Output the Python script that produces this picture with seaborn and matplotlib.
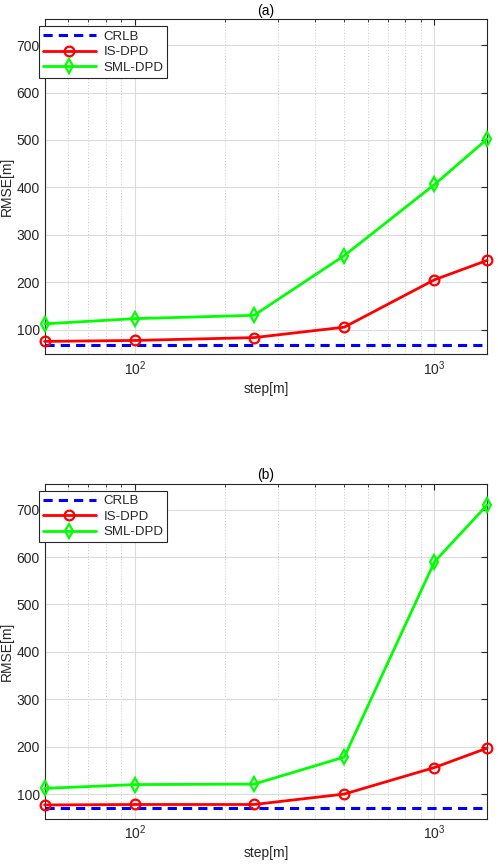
import numpy as np
import pandas as pd
import matplotlib
matplotlib.use("Agg")
import matplotlib.pyplot as plt
import seaborn as sns
from matplotlib.ticker import LogLocator, NullFormatter, MultipleLocator

steps = [50, 100, 250, 500, 1000, 1500]
series_names = ["CRLB", "IS-DPD", "SML-DPD"]

crlb_a = [68, 68, 68, 68, 68, 68]
is_a = [75, 77, 83, 105, 205, 246]
sml_a = [112, 123, 130, 256, 406, 502]

crlb_b = [70, 70, 70, 70, 70, 70]
is_b = [77, 78, 78, 100, 156, 197]
sml_b = [112, 120, 121, 178, 590, 710]

panel_titles = ["(a)", "(b)"]
xlabel = "step[m]"
ylabel = "RMSE[m]"

sns.set_style("white")
plt.rcParams["font.family"] = ["Liberation Sans", "DejaVu Sans"]

fig = plt.figure(figsize=(4.98, 8.66), dpi=100)
ax_a = fig.add_axes([0.0894, 0.591, 0.889, 0.387])
ax_b = fig.add_axes([0.0894, 0.0546, 0.889, 0.387])

colors = {"CRLB": "#0000ff", "IS-DPD": "#ff0000", "SML-DPD": "#00ff00"}
markers = {"CRLB": "", "IS-DPD": "o", "SML-DPD": "d"}

for ax, title, vals in [
    (ax_a, panel_titles[0], (crlb_a, is_a, sml_a)),
    (ax_b, panel_titles[1], (crlb_b, is_b, sml_b)),
]:
    df = pd.DataFrame({
        "step": steps * 3,
        "rmse": list(vals[0]) + list(vals[1]) + list(vals[2]),
        "series": sum([[n] * len(steps) for n in series_names], []),
    })
    for name in series_names:
        sub = df[df["series"] == name]
        if name == "CRLB":
            sns.lineplot(data=sub, x="step", y="rmse", ax=ax, color=colors[name],
                         lw=2.2, linestyle=(0, (3, 2)), label=name, clip_on=False,
                         zorder=3)
        else:
            sns.lineplot(data=sub, x="step", y="rmse", ax=ax, color=colors[name],
                         lw=2.0, marker=markers[name], markersize=7,
                         markerfacecolor="none", markeredgecolor=colors[name],
                         markeredgewidth=1.6, label=name, clip_on=False, zorder=4)
    ax.set_xscale("log")
    ax.set_xlim(50, 1500)
    ax.set_ylim(48, 755)
    ax.yaxis.set_major_locator(MultipleLocator(100))
    ax.xaxis.set_major_locator(LogLocator(base=10))
    ax.xaxis.set_minor_locator(LogLocator(base=10, subs=np.arange(2, 10)))
    ax.xaxis.set_minor_formatter(NullFormatter())
    ax.grid(True, which="major", color="#dcdcdc", lw=0.8, ls="-")
    ax.grid(True, which="minor", axis="x", color="#c8c8c8", lw=0.7, ls=(0, (1, 2)))
    ax.set_axisbelow(True)
    for s in ax.spines.values():
        s.set_color("#262626")
        s.set_linewidth(0.8)
    ax.tick_params(axis="both", which="both", direction="in", top=True, right=True,
                   labelsize=10, colors="#262626", labelcolor="#262626")
    ax.tick_params(which="major", length=4)
    ax.tick_params(which="minor", length=2.5)
    ax.set_xlabel(xlabel, fontsize=10, color="#262626", labelpad=3)
    ax.set_ylabel(ylabel, fontsize=10, color="#262626", labelpad=2)
    ax.set_title(title, fontsize=10, color="#000000", pad=3)
    leg = ax.legend(loc="upper left", bbox_to_anchor=(-0.013, 0.978), fontsize=9.5,
                    frameon=True, fancybox=False, edgecolor="#262626",
                    handlelength=4.0, borderpad=0.3, labelspacing=0.25,
                    borderaxespad=0.0, handletextpad=0.6)
    leg.get_frame().set_linewidth(0.8)
    leg.get_frame().set_alpha(1)
    leg.set_zorder(10)

fig.savefig("out.png", dpi=100)
